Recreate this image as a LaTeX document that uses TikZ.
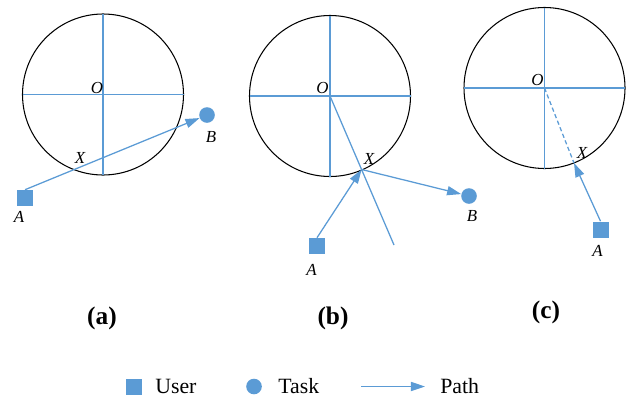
\documentclass[tikz,border=0pt]{standalone}
\usepackage{fontspec}
\setmainfont{Liberation Serif}
\usetikzlibrary{arrows.meta}

\definecolor{pathblue}{RGB}{91,155,213}

\tikzset{
    ring/.style={draw=black,line width=.75pt},
    axis/.style={draw=pathblue,line width=.9pt},
    path line/.style={
        draw=pathblue,line width=.9pt,
        -{Triangle[length=10pt,width=6.5pt]}
    },
    user/.style={
        fill=pathblue,inner sep=0pt,
        minimum size=.4cm
    },
    task/.style={
        circle,fill=pathblue,inner sep=0pt,
        minimum size=.39cm
    },
    lbl/.style={inner sep=0pt,font=\fontsize{12}{14}\selectfont\itshape},
    caption/.style={inner sep=0pt,font=\fontsize{18}{21}\selectfont\bfseries},
    legend text/.style={inner sep=0pt,anchor=west,font=\fontsize{15.5}{18}\selectfont}
}

\begin{document}
\begin{tikzpicture}[x=0.025cm,y=-0.025cm]
    \useasboundingbox (0,0) rectangle (628,402);
    % circles with their axes
    \foreach \cx/\cy/\p in {103/94.5/a,330/96/b,544.5/88/c} {
        \coordinate (O\p) at (\cx,\cy);
        \draw[ring] (O\p) circle (80.5);
        \draw[axis] (O\p) ++(-80.5,0) -- ++(161,0) (O\p) ++(0,-80.5) -- ++(0,161);
    }
    \foreach \x/\y/\p in {97/87.5/a,322.5/87.5/b,537.5/80/c}
        \node[lbl] at (\x,\y) {O};

    % (a)
    \node[user] (Aa) at (25,198) {};
    \node[task] (Ba) at (207,115) {};
    \draw[path line] (Aa.north) -- (Ba);
    \node[lbl] at (19,217) {A};
    \node[lbl] at (211,137) {B};
    \node[lbl] at (80,158) {X};

    % (b)
    \coordinate (Xb) at (361.6,169.5);
    \coordinate (Eb) at (394,245);
    \node[user] (Ab) at (317,246) {};
    \node[task] (Bb) at (469,196) {};
    \draw[axis] (Ob) -- (Eb);
    \draw[path line] (Ab.north) -- (Xb);
    \draw[path line] (Xb) -- (Bb);
    \node[lbl] at (311.5,270) {A};
    \node[lbl] at (472,216) {B};
    \node[lbl] at (369,159) {X};

    % (c)
    \coordinate (Xc) at (574,163);
    \node[user] (Ac) at (600.5,229.5) {};
    \draw[axis,dash pattern=on 3pt off 2pt] (Oc) -- (Xc);
    \draw[path line] (Ac.north) -- (Xc);
    \node[lbl] at (597.5,250.5) {A};
    \node[lbl] at (582,152.5) {X};

    \node[caption] at (102,318) {(a)};
    \node[caption] at (333,318) {(b)};
    \node[caption] at (546,312) {(c)};

    % legend
    \node[user] (lu) at (133.5,386.5) {};
    \node[legend text] (tu) at (155,386.5) {User};
    \node[task] (lt) at (254,386.5) {};
    \node[legend text] (tt) at (278,386.5) {Task};
    \coordinate (ps) at (361,386.5);
    \coordinate (pe) at (425,386.5);
    \draw[path line] (ps) -- (pe);
    \node[legend text] (tp) at (440,386.5) {Path};
\end{tikzpicture}
\end{document}
